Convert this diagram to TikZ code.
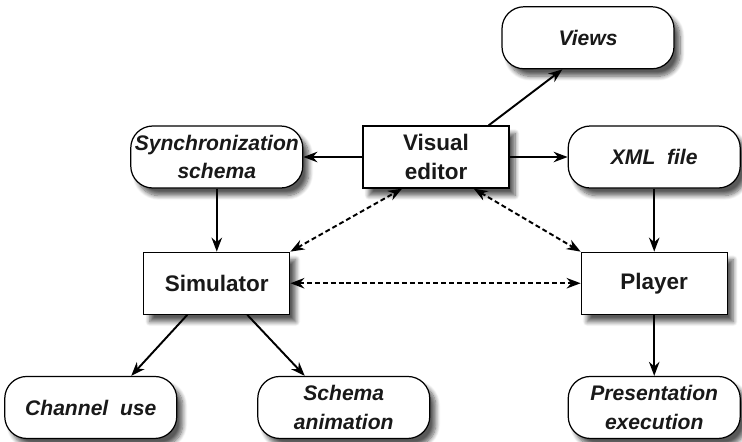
\documentclass[tikz,border=0pt]{standalone}
\usepackage{fontspec}
\setmainfont{Liberation Sans}
\usepackage{tikz}
\usetikzlibrary{positioning, arrows.meta, shadows.blur}

\begin{document}
\begin{tikzpicture}[>={Stealth[length=2.8mm,width=2.1mm]},
    every node/.style={font=\fontsize{12.8}{16}\selectfont\bfseries, text=black!90},
    tool/.style={draw, rectangle, fill=white, line width=0.7pt, minimum width=2.92cm, minimum height=1.24cm, align=center,
        blur shadow={shadow xshift=0.12cm, shadow yshift=-0.15cm, shadow blur radius=0.09cm, shadow blur steps=8, shadow opacity=65}},
    product/.style={tool, rounded corners=0.44cm, minimum width=3.44cm, inner xsep=2pt, font=\fontsize{12}{16}\selectfont\bfseries\itshape},
    flow/.style={->, line width=1.1pt},
    link/.style={<->, line width=1.1pt, dash pattern=on 2.8pt off 1.7pt}]
    \useasboundingbox (0,0) rectangle (14.84,-8.82);

    \node [tool] (editor) at (8.72,-3.14) {Visual\\editor};
    \node [product, left=1.18cm of editor] (sync) {Synchronization\\schema};
    \node [product, right=1.16cm of editor] (xml) {XML~~file};
    \node [product, above=1.12cm of editor, xshift=3.04cm] (views) {Views};

    \node [tool, below=1.26cm of sync] (sim) {Simulator};
    \node [tool, below=1.26cm of xml] (player) {Player};

    \node [product, below=1.22cm of sim, xshift=-2.52cm] (chan) {Channel~~use};
    \node [product, below=1.22cm of sim, xshift=2.54cm] (anim) {Schema\\animation};
    \node [product, below=1.22cm of player] (pres) {Presentation\\execution};

    % editor outputs
    \draw [flow] (editor) -- (sync);
    \draw [flow] (editor) -- (xml);
    \draw [flow] (editor.31) -- (views.231);
    \draw [flow] (sync) -- (sim);
    \draw [flow] (xml) -- (player);

    % simulator and player outputs
    \draw [flow] (sim.227) -- (chan.38);
    \draw [flow] (sim.314) -- (anim.141);
    \draw [flow] (player) -- (pres);

    % two-way links
    \draw [link] (sim.north east) -- (editor.223);
    \draw [link] (editor.320) -- (player.north west);
    \draw [link] (sim) -- (player);
\end{tikzpicture}
\end{document}
